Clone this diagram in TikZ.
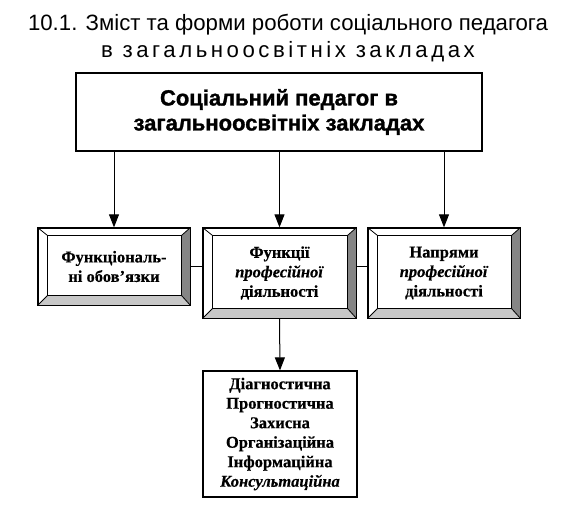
\documentclass[tikz,border=0pt]{standalone}
\usepackage{fontspec}
\setmainfont{Liberation Serif}[BoldFeatures={FakeBold=0.5},BoldItalicFeatures={FakeBold=0.5}]
\newfontfamily\titlefont{Liberation Sans}
\newfontfamily\titlewide{Liberation Sans}[LetterSpace=16]
\newfontfamily\heavyfont{Liberation Sans}[BoldFeatures={FakeBold=1.3}]
\usetikzlibrary{arrows.meta,calc}
\newcommand\bevelize[1]{%
  \coordinate (#1-inw) at ($(#1.north west)+(10,8)$);
  \coordinate (#1-ine) at ($(#1.north east)+(-9,8)$);
  \coordinate (#1-isw) at ($(#1.south west)+(10,-10)$);
  \coordinate (#1-ise) at ($(#1.south east)+(-9,-10)$);
  \fill[black!48] (#1.north east) -- (#1-ine) -- (#1-ise) -- (#1.south east) -- cycle;
  \fill[black!22] (#1.south west) -- (#1-isw) -- (#1-ise) -- (#1.south east) -- cycle;
  \draw[line width=0.8pt] (#1-inw) rectangle (#1-ise);
  \draw[line width=0.8pt] (#1.north west) -- (#1-inw) (#1.north east) -- (#1-ine)
    (#1.south west) -- (#1-isw) (#1.south east) -- (#1-ise);
  \draw[line width=1.3pt] (#1.north west) rectangle (#1.south east);
}
\begin{document}
\begin{tikzpicture}[x=1pt,y=-1pt,
  bev/.style={draw=black, line width=1.3pt, fill=white, inner sep=0pt, align=center,
    font=\fontsize{16.5}{19.5}\selectfont\bfseries},
  plain/.style={draw=black, line width=1.2pt, fill=white, inner sep=0pt, align=center,
    font=\fontsize{16.5}{19.5}\selectfont\bfseries},
  arr/.style={line width=1pt,-{Triangle[width=10pt,length=13pt]}},
  con/.style={line width=1pt}]
\useasboundingbox (0,0) rectangle (572,513);
% title
\node[font=\titlefont\fontsize{22.2}{27}\selectfont, anchor=base, inner sep=0pt] (t1) at (288,31)
  {10.1. Зміст та форми роботи соціального педагога};
\node[font=\titlewide\fontsize{22.2}{27}\selectfont, anchor=base, inner sep=0pt] (t2) at (288,58)
  {в загальноосвітніх закладах};
% top box
\node[plain, minimum width=406pt, minimum height=78pt,
  font=\heavyfont\bfseries\fontsize{22}{25}\selectfont] (top) at (279,112)
  {Соціальний педагог в\\загальноосвітніх закладах};
% bevel boxes
\node[bev, minimum width=152pt, minimum height=77pt] (b1) at (114,266.5)
  {Функціональ-\\ні обов’язки};
\node[bev, minimum width=153pt, minimum height=90pt] (b2) at (279.5,273)
  {Функції\\\textit{професійної}\\діяльності};
\node[bev, minimum width=152pt, minimum height=90pt] (b3) at (444,273)
  {Напрями\\\textit{професійної}\\діяльності};
\bevelize{b1}
\bevelize{b2}
\bevelize{b3}
% bottom box
\node[plain, minimum width=154pt, minimum height=126pt] (b4) at (280,434)
  {Діагностична\\Прогностична\\Захисна\\Організаційна\\Інформаційна\\\textit{Консультаційна}};
% connectors
\draw[arr] (b1.north |- top.south) -- (b1.north);
\draw[arr] (b2.north |- top.south) -- (b2.north);
\draw[arr] (b3.north |- top.south) -- (b3.north);
\draw[con] (b1.east) -- (b1.east -| b2.west);
\draw[con] (b2.east |- b1.east) -- (b3.west |- b1.east);
\draw[arr] (b2.south) -- (b4.north);
\end{tikzpicture}
\end{document}
